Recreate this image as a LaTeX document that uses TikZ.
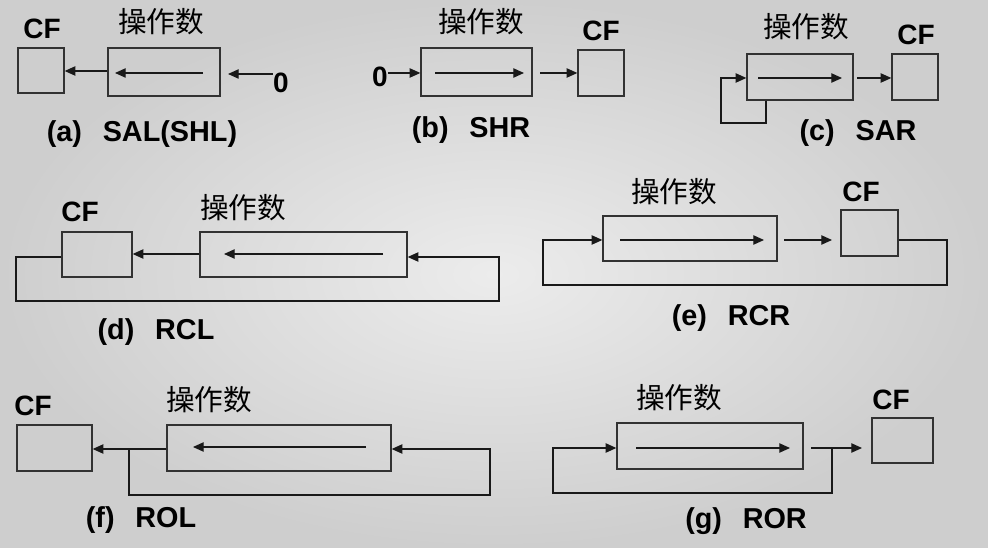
\documentclass[tikz,border=0pt]{standalone}
\usepackage{fontspec}
\setmainfont{Liberation Sans}
\newfontfamily\cjk{Noto Sans CJK SC}
\usetikzlibrary{arrows.meta,fit}
\definecolor{boxc}{RGB}{50,50,50}
\definecolor{bgin}{RGB}{236,236,236}
\definecolor{bgout}{RGB}{206,206,206}
\begin{document}
\begin{tikzpicture}[x=0.75pt,y=-0.75pt,
  box/.style={draw=boxc, line width=1pt, inner sep=0pt},
  conn/.style={draw=black!90, line width=0.9pt},
  arr/.style={conn, -{Triangle[length=8pt,width=7pt]}},
  lbl/.style={font=\bfseries\fontsize{21}{24}\selectfont, inner sep=0pt},
  captxt/.style={font=\bfseries\fontsize{21.6}{24}\selectfont, inner sep=0pt},
  cn/.style={font=\cjk\fontsize{21.5}{24}\selectfont, inner sep=0pt}]
\useasboundingbox (0,0) rectangle (988,548);
\shade[inner color=bgin, outer color=bgout] (0,0) rectangle (988,548);

% (a) SAL(SHL)
\node[box, fit={(18,48) (64,93)}] (cfA) {};
\node[box, fit={(108,48) (220,96)}] (opA) {};
\node[lbl] (cfAt) at (42,29) {CF};
\node[cn] (opAt) at (161,22) {操作数};
\node[lbl] (zeroA) at (281,83) {0};
\node[captxt] (capA) at (142,134) {(a)\hspace{0.72em}SAL(SHL)};
\coordinate (inA) at (228,74);
\draw[arr] (203,73) -- (115,73);
\draw[arr] (opA.west |- 0,71) -- (cfA.east |- 0,71);
\draw[arr] (zeroA.west |- inA) -- (inA);

% (b) SHR
\node[box, fit={(421,48) (532,96)}] (opB) {};
\node[box, fit={(578,50) (624,96)}] (cfB) {};
\node[lbl] (cfBt) at (601,31) {CF};
\node[cn] (opBt) at (481,22) {操作数};
\node[lbl] (zeroB) at (380,77) {0};
\node[captxt] (capB) at (471,130) {(b)\hspace{0.72em}SHR};
\coordinate (outB) at (540,73);
\draw[arr] (zeroB.east |- outB) -- (opB.west |- outB);
\draw[arr] (435,73) -- (524,73);
\draw[arr] (outB) -- (cfB.west |- outB);

% (c) SAR
\node[box, fit={(747,54) (853,100)}] (opC) {};
\node[box, fit={(892,54) (938,100)}] (cfC) {};
\node[lbl] (cfCt) at (916,35) {CF};
\node[cn] (opCt) at (806,27) {操作数};
\node[captxt] (capC) at (858,133) {(c)\hspace{0.72em}SAR};
\coordinate (outC) at (857,78);
\draw[arr] (758,78) -- (842,78);
\draw[arr] (outC) -- (cfC.west |- outC);
\draw[arr] (opC.south -| 766,0) -- (766,123) -- (721,123) -- (721,78) -- (opC.west |- 0,78);

% (d) RCL
\node[box, fit={(62,232) (132,277)}] (cfD) {};
\node[box, fit={(200,232) (407,277)}] (opD) {};
\node[lbl] (cfDt) at (80,212) {CF};
\node[cn] (opDt) at (243,208) {操作数};
\node[captxt] (capD) at (156,332) {(d)\hspace{0.72em}RCL};
\draw[arr] (383,254) -- (224,254);
\draw[arr] (opD.west |- 0,254) -- (cfD.east |- 0,254);
\draw[arr] (cfD.west |- 0,257) -- (16,257) -- (16,301) -- (499,301) -- (499,257) -- (opD.east |- 0,257);

% (e) RCR
\node[box, fit={(603,216) (777,261)}] (opE) {};
\node[box, fit={(841,210) (898,256)}] (cfE) {};
\node[cn] (opEt) at (674,192) {操作数};
\node[lbl] (cfEt) at (861,192) {CF};
\node[captxt] (capE) at (731,318) {(e)\hspace{0.72em}RCR};
\coordinate (outE) at (784,240);
\coordinate (inE) at (832,240);
\draw[arr] (620,240) -- (764,240);
\draw[arr] (outE) -- (inE);
\draw[arr] (cfE.east |- 0,240) -- (947,240) -- (947,285) -- (543,285) -- (543,240) -- (opE.west |- 0,240);

% (f) ROL
\node[box, fit={(17,425) (92,471)}] (cfF) {};
\node[box, fit={(167,425) (391,471)}] (opF) {};
\node[lbl] (cfFt) at (33,406) {CF};
\node[cn] (opFt) at (209,400) {操作数};
\node[captxt] (capF) at (141,520) {(f)\hspace{0.72em}ROL};
\coordinate (brF) at (129,449);
\draw[arr] (366,447) -- (193,447);
\draw[arr] (opF.west |- brF) -- (cfF.east |- brF);
\draw[arr] (brF) -- (129,495) -- (490,495) -- (490,449) -- (opF.east |- brF);

% (g) ROR
\node[box, fit={(617,423) (803,469)}] (opG) {};
\node[box, fit={(872,418) (933,463)}] (cfG) {};
\node[cn] (opGt) at (679,398) {操作数};
\node[lbl] (cfGt) at (891,400) {CF};
\node[captxt] (capG) at (746,521) {(g)\hspace{0.72em}ROR};
\coordinate (outG) at (811,448);
\coordinate (inG) at (862,448);
\coordinate (brG) at (832,448);
\draw[arr] (636,448) -- (790,448);
\draw[arr] (outG) -- (inG);
\draw[arr] (brG) -- (832,493) -- (553,493) -- (553,448) -- (opG.west |- brG);
\end{tikzpicture}
\end{document}
